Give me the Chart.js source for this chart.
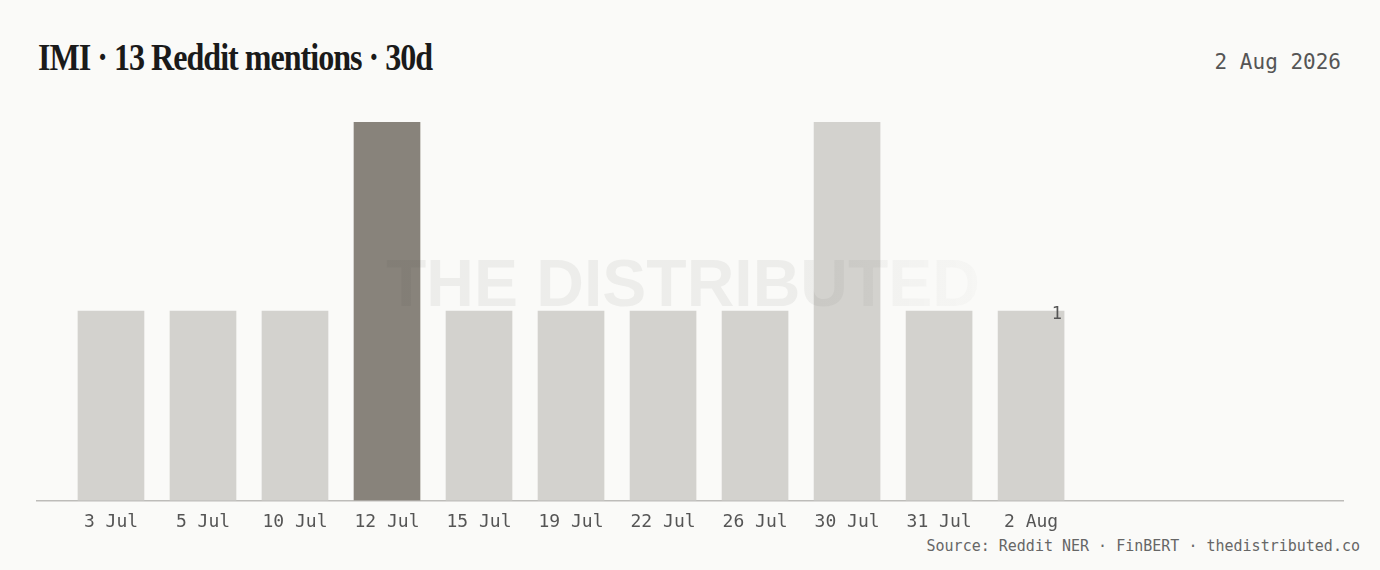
<!DOCTYPE html>
<html>
<head>
<meta charset="utf-8">
<script src="https://cdn.jsdelivr.net/npm/chart.js@4"></script>
<style>
body{margin:0;background:#fafaf8;width:1380px;height:570px;overflow:hidden;position:relative}
#title{position:absolute;left:38px;top:38px;font-family:"Liberation Serif",serif;font-weight:bold;font-size:38px;line-height:38px;letter-spacing:-1.2px;color:#1a1a1a;white-space:nowrap;transform:scaleX(0.845);transform-origin:left top}
#date{position:absolute;right:39px;top:50px;font-family:"DejaVu Sans Mono",monospace;font-size:21px;color:#555}
#source{position:absolute;right:20px;top:537px;font-family:"DejaVu Sans Mono",monospace;font-size:15px;color:#666;white-space:nowrap}
#wrap{position:absolute;left:0;top:0;width:1380px;height:570px}
</style>
</head>
<body>
<div id="title">IMI · 13 Reddit mentions · 30d</div>
<div id="date">2 Aug 2026</div>
<div id="source">Source: Reddit NER · FinBERT · thedistributed.co</div>
<div id="wrap"><canvas id="chart"></canvas></div>
<script>
const dates=["3 Jul","5 Jul","10 Jul","12 Jul","15 Jul","19 Jul","22 Jul","26 Jul","30 Jul","31 Jul","2 Aug"];
const mentions=[1,1,1,2,1,1,1,1,2,1,1];
const highlight=3;

const barColors=mentions.map((v,i)=>i===highlight?"#88837b":"#d3d2ce");

// watermark text across the plot
const watermark={
id:"watermark",
afterDatasetsDraw(chart){
const ctx=chart.ctx;
ctx.save();
ctx.font="bold 66px 'Liberation Sans', Arial, sans-serif";
ctx.textAlign="center";
ctx.textBaseline="middle";
const g=ctx.createLinearGradient(385,0,980,0);
g.addColorStop(0,"rgba(60,60,55,0.065)");
g.addColorStop(0.68,"rgba(60,60,55,0.065)");
g.addColorStop(1,"rgba(60,60,55,0.02)");
ctx.fillStyle=g;
ctx.fillText("THE DISTRIBUTED",683,288);
ctx.restore();
}
};

// value label on the latest bar
const lastLabel={
id:"lastLabel",
afterDatasetsDraw(chart){
const meta=chart.getDatasetMeta(0);
const i=mentions.length-1;
const bar=meta.data[i];
const ctx=chart.ctx;
ctx.save();
ctx.font="17px 'DejaVu Sans Mono', monospace";
ctx.fillStyle="#555";
ctx.textAlign="right";
ctx.textBaseline="alphabetic";
ctx.fillText(String(mentions[i]),bar.x+bar.width/2-2,bar.y+8);
ctx.restore();
}
};

new Chart(
document.getElementById("chart"),
{
type:"bar",
data:{
datasets:[{
data:mentions.map((v,i)=>({x:i,y:v})),
backgroundColor:barColors,
barThickness:66
}]
},
options:{
responsive:true,
maintainAspectRatio:false,
animation:false,
layout:{padding:{left:37,right:37,top:122,bottom:26}},
plugins:{legend:{display:false},tooltip:{enabled:false}},
scales:{
x:{
type:"linear",
offset:false,
min:-0.804,
max:13.39,
grid:{display:false,drawTicks:false,offset:false},
border:{display:true,color:"#bdbcb9",width:1.5},
ticks:{
stepSize:1,
autoSkip:false,
maxRotation:0,
includeBounds:false,
padding:11,
color:"#555",
font:{family:"'DejaVu Sans Mono', monospace",size:18},
callback:(v)=>Number.isInteger(v)&&dates[v]?dates[v]:""
}
},
y:{
display:false,
min:0,
max:2
}
}
},
plugins:[watermark,lastLabel]
}
);
</script>
</body>
</html>
